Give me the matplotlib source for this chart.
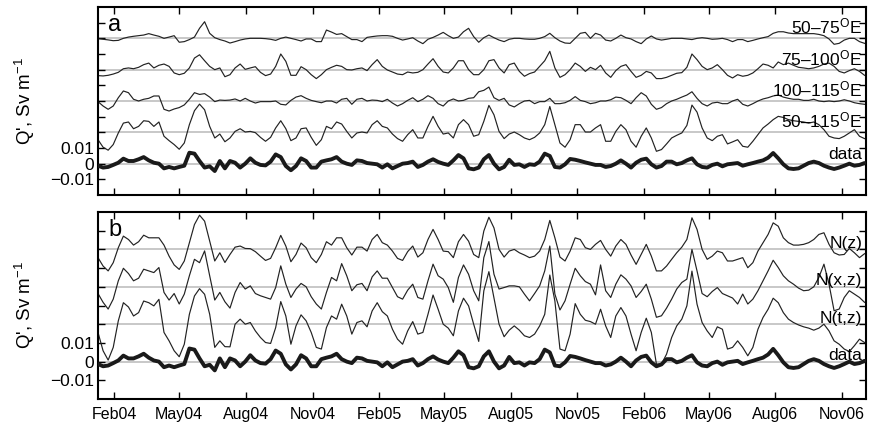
import numpy as np
import pandas as pd
import matplotlib
matplotlib.use("Agg")
import matplotlib.pyplot as plt
import matplotlib.dates as mdates

plt.rcParams['font.family'] = ['Liberation Sans', 'DejaVu Sans']
plt.rcParams['mathtext.fontset'] = 'custom'
plt.rcParams['mathtext.rm'] = 'Liberation Sans'
plt.rcParams['mathtext.it'] = 'Liberation Sans:italic'

# weekly samples, Q' in units of 1e-3 Sv/m
dates = pd.date_range('2004-01-10', periods=152, freq='7D')

data = [-1.3, -2.5, -2.1, -0.8, 0.6, 3.2, 1.7, 1.7, 2.8, 4.2, 2.1, 0.6, 0, -3, -2.1, -3, -2.1, -1.3, 7, 6.4, 1.7, -2.5, -1.7, -4.7, 1.7, -3,
        1.7, 0.6, -2.5, 0, 3.4, 0.6, -0.8, -1.1, 1.3, 5.9, 4.2, -1.5, -4.2, -1.5, 3.4, 1.7, -2.5, -2.5, 1.3, 2.1, 2.8, 4.2, 1.3, 0, -0.8,
        2.1, 1.7, 0.4, 0, -0.4, -2.5, -0.4, -3, -1.5, 0, 0.4, 1.3, -2.1, -0.8, 1.3, 2.8, 1.1, 0, -0.8, 2.1, 5.5, 3.4, -3, -3.6, -2.5,
        2.8, 5.5, 0, -3.6, -2.1, 2.5, -0.8, -0.4, -2.1, -0.4, -0.8, 1.3, 6.4, 4.9, -2.1, -2.5, -0.4, 3, 2.5, 1.7, 0.8, 0, -0.8, -0.8, -2.1,
        -1.5, 0, 2.1, 0, -2.5, 0.6, 2.5, 3.2, -0.4, -2.5, -1.5, 1.3, 1.3, -0.4, 0.4, 2.1, 3.4, -0.4, -2.1, -2.5, -0.8, 0, -1.7, -0.4, 0, 0.4,
        -1.3, -0.4, 0.4, 1.3, 2.1, 3.8, 6.8, 3.4, -0.4, -3, -3.4, -3, -1.3, 0.4, 1.3, 0.4, -1.3, -2.5, -3.4, -2.5, -1.3, 0, -1.3, -0.8, 0.4]

lon_50_75 = [-0.2, -0.6, -1, -1.5, -1.3, 0, 0.8, 1.3, 1.7, 2.1, 3, 2.1, 1.3, 0, 0.8, 1.7, -2.5, -2.1, -0.8, 0.8, 6.4, 10.6, 3.2, 0.4, -0.8, -1.7,
             -3, -2.1, -1.1, -0.4, 0, 0, 0, -0.2, -0.6, -1.3, 0, 0.8, 0, -0.8, -1.7, -0.4, -0.4, -2.1, -2.1, 5.3, 4.0, 2.5, 3, 1.1, -0.8,
             -0.8, -2.1, 0.6, 1.1, 1.5, 1.7, 1.7, 1.3, 0, -1.1, -0.4, 0.4, -1.7, -3.4, -0.6, 0.6, 2.1, 3.8, 1.7, 0, 0.8, 4.2, 6.4, 1.1, -2.5,
             0.4, 2.1, 0.4, -1.1, -2.1, -0.6, 0, 0, -0.4, -0.6, -0.6, 0, 1.1, 3.2, 0.4, -1.7, -3, -3.2, 0, 3.2, 3.8, 0, 3.2, 2.1, -1.1,
             -1.7, 0, 2.1, 0.4, -0.4, -2.1, -3.4, -0.4, 1.5, -0.4, -1.1, -0.6, 0, 0, 0, -0.4, -0.8, 0, 0.4, 0, -0.6, -0.4, 0, -0.8, -2.1, -0.8,
             -0.8, -2.1, -1.3, -0.4, 0.4, 1.1, 3.2, 4.2, 4.2, 3.4, 3, 3, 3, 3, 3, 2.5, 1.7, -0.4, -3.8, -3.2, -1.1, 0, 0, -2.1, -3.2]

lon_75_100 = [-3.8, -4, -3.6, -2.8, -1.7, 0.6, 1.1, 0.6, 1.5, 3.2, 4.2, 1.1, 2.8, 3.6, 2.1, -2.1, -3.2, -2.3, 1.1, 7.4, 9.5, 5.7, 2.1, 0, 1.1, -4.5,
              -3.2, 1.1, 3.6, 0.2, 1.1, 1.9, -1.7, -3.8, -2.8, 2.1, 10, 5.3, -3.6, -3.6, 1.9, 0, -3.2, -5.7, -3.2, 0, 1.5, 2.8, 2.1, 0, -0.2,
              0.6, 1.1, -0.6, 3.2, 6.4, 2.1, -0.2, -1.5, -2.8, -3.2, -1.5, -2.1, -1.7, 0, 3.6, 7, 2.1, -1.5, -2.1, 1.1, 5.7, 5.7, 0, -3.2, -3.2,
              0, 5.7, 6.4, 1.1, -2.1, 3.2, 4.2, -1.1, -4.2, -2.5, -1.5, 2.1, 5.7, 11.7, 1.1, -4.9, -3.2, 0, 4.2, 2.1, -1.1, 1.5, 0, 2.8, -2.1,
              -4.9, -0.6, 2.1, 3.2, -1.1, -4.9, -3.6, -1.1, -2.1, -5.7, -5.7, -4.9, -3.6, -2.3, -1.9, 1.5, 10, 6.4, 2.1, 0, 1.1, 3.2, 0, -3.6, -5.3, -3.2,
              -4.2, -3.6, -2.1, 0.6, 3.6, 2.8, 1.1, 4.9, 3.2, 4.2, 2.8, 1.5, 1.1, 0.6, 1.1, 2.1, 3.6, 4.2, 2.1, -1.1, -2.1, -0.6, 0.6, -1.1, -3.6]

lon_100_115 = [-0.4, -3.2, -5.3, -3.2, 2.1, 6.4, 5.3, 1.1, 0, 1.1, 1.7, 3.2, 3.2, -5.3, -6.4, -5.1, -4.2, -2.5, 1.1, 5.3, 4.2, 4.7, 2.5, -0.4, 0.6, 0.4,
               0.6, 1.3, 0, 1.7, 0, -1.3, -0.4, -0.4, -0.4, 0, -2.1, -2.5, 0.4, 2.5, 3.4, 1.7, 0.4, -0.4, -1.1, 0, 0, -1.3, 1.1, 1.7, -2.1,
               1.1, 1.7, 0, 0.6, 0.4, -0.4, 1.1, -1.3, -3.2, -1.7, 0.4, 2.1, -0.4, 1.1, 3.4, 1.7, -1.7, -3.2, 0, 1.3, 0, 0.4, 1.7, 2.1, 5.9,
               6.8, 8.9, 2.1, 0.4, 1.7, -2.5, -3.8, -1.7, 0, 0.4, -1.7, -0.4, -0.4, 1.7, -1.7, -1.7, -1.1, 0.4, 2.8, 0.4, -0.4, -1.7, -1.1, 0, 0,
               0.8, 2.5, 2.1, 0.4, -1.7, 2.1, 5.3, 3.2, -2.1, -5.3, -4.2, -1.7, 0, 1.1, 2.5, 3.8, 5.9, 1.7, -1.7, -3.2, -1.3, -0.8, -1.7, -1.7, 0, 1.1,
               -2.1, -3.2, -1.7, 0, 1.3, 2.1, 3.2, 3.8, 2.5, 1.7, 1.1, 1.1, 0.4, 0.4, 1.1, 0, -0.4, 0, -0.4, 0, 0.8, 0, -1.1, -1.7, -2.1]

lon_50_115 = [-4.7, -9.5, -11.4, -7.8, -0.4, 5.9, 6.6, 2.3, 3.8, 7.4, 7, 3.8, 6.6, -2.5, -5.3, -7.8, -10.8, -6.8, 4.9, 13.8, 18, 14.4, 3.8, -3.6, -1.1, -6,
              -3.6, 0.6, 2.3, 0.2, 0.6, -0.2, -3.2, -5.7, -3.2, 2.8, 7.4, 2.3, -5.3, -3.6, 2.3, 2.8, -3.2, -8.3, -4.7, 3.8, 2.3, 6.6, 5.3, 0.6, -3.6,
              -0.4, 0.2, -0.4, 4.9, 7.4, 3.8, 2.8, -1.1, -4, -5.7, -1.5, 1.7, -3.6, -3.6, 3.8, 10.2, 3.8, -1.1, -0.4, -3.6, 4.9, 8.1, 4.9, -2.5, -1.5,
              7, 17.2, 11.2, 0.6, -4, -1.1, 0.2, -1.5, -3.6, -4.7, -3.2, -0.4, 4.9, 16.5, 4.9, -6.8, -9.5, -4.7, 4.9, 4.9, 0.2, 0.2, 2.8, 4.9, -5.7,
              -5.7, 0.6, 4.9, 1.7, -5.7, -9.5, -2.5, 2.8, -3.6, -12.1, -11, -7.4, -3.6, -1.9, -0.4, 4.4, 17.4, 12.9, 2.8, -3.6, -5.3, -2.5, -1.5, -7.4, -6.1, -4.7,
              -8.9, -9.5, -5.7, -1.5, 2.8, 5.3, 8.1, 10.2, 9.5, 8.1, 7.4, 7, 6.6, 5.9, 6.6, 4.9, 1.7, -2.5, -3.6, -4, -2.5, -0.4, 1.7, -2.5, -4]

n_z = [-4.4, -8.9, -11.5, -7.1, 0.9, 7.1, 5.3, 2.3, 4.1, 7.6, 6.2, 6.2, 6.2, 2.3, -3.6, -8.3, -10.7, -6.2, 3.6, 13.3, 18.3, 15.1, 4.4, -6.2, -1.8, -7,
       -2.7, 1.2, 1.8, 0.5, 0.4, -1.2, -3.6, -5.9, -4.8, 0.9, 7.5, 1.8, -6.6, -2.7, 3.4, 0.9, -4.4, -7.1, -2.7, 4.1, 2.3, 6.2, 6.2, 0.9, -3,
       1.2, 1.2, -0.9, 5.3, 8, 3.6, 2.3, -0.9, -4.8, -5.9, -1.2, 1.8, -4.1, -1.8, 5.3, 10.7, 5.3, -0.9, -1.2, -4.4, 4.1, 8, 4.4, -2.7, -4.4,
       9.8, 17.2, 11.5, 0, -4.1, -0.9, 0, -1.8, -3, -4.4, -3.6, -0.9, 5.3, 15.5, 6.2, -4.1, -6.2, -0.9, 6.2, 5.3, 0.9, 0, 2.7, 4.8, 0,
       -3.6, 1.8, 5.3, 2.7, -3, -8, -2.7, 2.7, -3.6, -11.5, -11.5, -8.9, -5.3, -1.8, 1.2, 5.3, 16.9, 10.7, 0, -5.3, -3.6, -0.9, -1.8, -6.2, -6.2, -5.3,
       -4.4, -9.8, -7.1, -0.9, 3.6, 8, 14.2, 12.4, 6.2, 3.6, 2.3, 2.3, 2.7, 3.6, 5.3, 8, 8.9, 2.7, -1.8, -3, -2.7, 0.5, -1.8, -4.4, -2.3]

n_xz = [-3.6, -8.3, -11.9, -6.6, 3.2, 9.9, 7.1, 3.2, 4.6, 9.4, 8.5, 7.6, 10.3, -3, -7.1, -3.6, -9.2, -3.9, 5.9, 14.7, 12.9, 19.2, 5.9, -7.1, -3, -8,
        -11.4, -3, 2.3, -1.2, 0.5, -3.6, -4.8, -5.7, -6.6, -0.4, 11.2, 1.4, -5.7, -1.2, 1.8, 0, -5.3, -9.2, -11.9, -3, 5, 3.2, 12.4, 5.9, -2.1,
        1.1, 1.8, -2.1, 5.3, 8.5, 4.6, 4.6, -0.4, -5.3, -6.6, -1.8, 1.4, -5.7, -6.6, 3.2, 12.1, 5.9, 4.1, -0.4, -8.3, 5, 11.7, 6.7, -2.1, -7.5,
        15.6, 24.2, 6.7, -1.2, -0.4, 0.5, 0.5, 0, -3.9, -7.5, -3.6, 0.5, 8.5, 21.8, -3.9, -12.4, -7.5, 1.4, 9.9, 5.9, 2.8, 1.4, -4.3, 11.7, -2.1,
        -5.7, 1.4, 6.4, 4.1, 0.5, -5.7, -2.5, 1.4, -6.6, -16.3, -15.5, -11.4, -6.6, -1.2, 2.3, 4.1, 20, 8.5, -3.6, -5.3, -2.5, -0.4, -3.6, -4.8, -6, -9.2,
        -3.9, -9.2, -6.6, -2.1, 3.2, 8.5, 14.2, 10.3, 5.9, 3.2, 1.4, -0.7, -2.1, -1.8, 0, 5, 12.1, 1.4, -12.8, -11.9, -5.7, -2.1, -3.9, -5.7, -8.3]

n_tz = [-4.4, -14.2, -19.2, -12.4, 1.8, 11.5, 9.2, 4.4, 6.2, 12.4, 11.5, 9.8, 13.3, -4.4, -8.9, -14.2, -17.4, -10.7, 5.3, 15.1, 19, 16, 5.3, -12.4, -8.9, -12,
        -12.1, 0, 2.7, 0, 0.9, -3.6, -7.1, -9.8, -10.3, -1.8, 12.1, 4.4, -10.7, -0.9, 5, 1.8, -4.4, -12.4, -13.3, -1.8, 4.4, 2.7, 10.7, 4.4, -5.3,
        0.9, 1.8, -1.4, 7.1, 11.5, 6.7, 4.4, -2.7, -8, -10.7, -3.6, 1.4, -5.3, -4.4, 5.3, 15.6, 8, 0, -2.1, -6.2, 7.1, 13.9, 9.8, 0, -9.2,
        17.8, 28.1, 14.2, 0, -6.7, -3.2, -0.9, -3.2, -6.2, -7.1, -5.3, -0.9, 5.3, 26.3, 12.4, -13.3, -14.2, -5.3, 11, 5.3, 2.1, 1.4, 0, 8, -0.9,
        -7.1, 4.4, 8.9, 4.4, -5.3, -14.2, -4.4, 3.2, -4.4, -21.3, -21.3, -16, -7.1, -0.9, 2.7, 9.8, 28.4, 10.7, 0.9, -3.6, -7.1, -1.4, -2.7, -13.3, -12.4, -8.9,
        -12.4, -16.9, -12.4, -2.7, 3.6, 8, 13.9, 11.5, 6.2, 2.7, 0.9, -0.4, -1.4, -2.1, -3.2, -2.1, 0, -3.6, -8.9, -10.7, -13.3, -14.6, -11.5, -8, -9.8]

# curves stacked bottom to top, each with its own label and vertical shift
panel_a = [(data, 'data', 0.0), (lon_50_115, '50\u2013115$^{\\rm O}$E', 0.02),
           (lon_100_115, '100\u2013115$^{\\rm O}$E', 0.04), (lon_75_100, '75\u2013100$^{\\rm O}$E', 0.06),
           (lon_50_75, '50\u201375$^{\\rm O}$E', 0.08)]
panel_b = [(data, 'data', 0.0), (n_tz, 'N(t,z)', 0.02), (n_xz, 'N(x,z)', 0.04), (n_z, 'N(z)', 0.06)]

fig = plt.figure(figsize=(8.69, 4.29), dpi=100)
ax_a = fig.add_axes([98 / 869, 1 - 195 / 429, 768 / 869, 188 / 429])
ax_b = fig.add_axes([98 / 869, 1 - 399 / 429, 768 / 869, 187 / 429])


def draw_panel(ax, curves, ymax, letter, label_dy):
    for values, name, shift in curves:
        ax.axhline(shift, color='#c8c8c8', lw=1.4, zorder=1)
        y = np.array(values) * 1e-3 + shift
        if name == 'data':
            ax.plot(dates, y, color='#1a1a1a', lw=2.8, zorder=3,
                    solid_joinstyle='round', solid_capstyle='round')
        else:
            ax.plot(dates, y, color='#222222', lw=0.85, zorder=2, solid_joinstyle='round')
        ax.text(0.995, shift + label_dy, name, transform=ax.get_yaxis_transform(),
                ha='right', va='baseline', fontsize=12.5, zorder=4)
    ax.set_ylim(-0.02, ymax)
    ax.set_xlim(pd.Timestamp('2004-01-10'), pd.Timestamp('2006-12-04'))
    ticks = np.round(np.arange(-0.01, ymax - 0.005, 0.01), 3)
    ax.set_yticks(ticks)
    ax.set_yticklabels(['\u22120.01' if t == -0.01 else '0' if t == 0 else '0.01' if t == 0.01 else ''
                        for t in ticks])
    ax.xaxis.set_major_locator(mdates.MonthLocator(bymonth=[2, 5, 8, 11]))
    ax.xaxis.set_major_formatter(mdates.DateFormatter('%b%y'))
    ax.tick_params(direction='in', length=5, width=1, top=True, right=True, labelsize=11.5)
    ax.tick_params(axis='y', labelsize=12.5, pad=3)
    ax.tick_params(axis='x', pad=6)
    for sp in ax.spines.values():
        sp.set_linewidth(1.5)
    ax.set_ylabel("Q', Sv m$^{-1}$", fontsize=13.5)
    ax.yaxis.set_label_coords(-0.08, 0.5)
    ax.text(0.013, 0.965, letter, transform=ax.transAxes, ha='left', va='top', fontsize=17)


draw_panel(ax_a, panel_a, 0.10, 'a', 0.003)
draw_panel(ax_b, panel_b, 0.08, 'b', 0.0008)
ax_a.tick_params(axis='x', labelbottom=False)

fig.savefig('out.png', dpi=100)
